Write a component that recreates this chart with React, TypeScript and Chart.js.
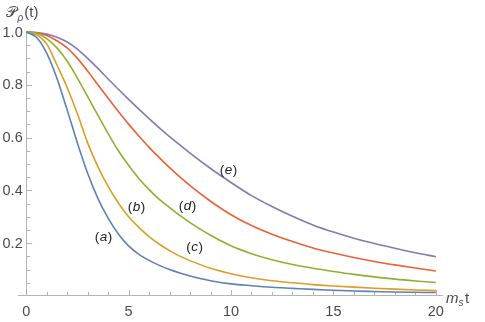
import React, { useEffect, useRef } from "react";
import { Chart, registerables } from "chart.js";

Chart.register(...registerables);

// ---- data ----
const tValues = [0, 0.5, 1, 1.5, 2, 2.5, 3, 3.5, 4, 4.5, 5, 5.5, 6, 6.5, 7, 7.5, 8, 9, 10, 11, 12, 13, 14, 15, 16, 17, 18, 19, 20];

const seriesA = [1.0, 0.98, 0.92, 0.825, 0.705, 0.58, 0.465, 0.37, 0.295, 0.235, 0.19, 0.158, 0.135, 0.116, 0.1, 0.087, 0.076, 0.058, 0.046, 0.039, 0.033, 0.029, 0.025, 0.022, 0.019, 0.017, 0.015, 0.014, 0.013];
const seriesB = [1.0, 0.99, 0.955, 0.875, 0.79, 0.69, 0.58, 0.49, 0.415, 0.352, 0.3, 0.26, 0.225, 0.196, 0.172, 0.151, 0.134, 0.105, 0.084, 0.069, 0.058, 0.05, 0.043, 0.038, 0.0335, 0.0295, 0.026, 0.023, 0.0205];
const seriesC = [1.0, 0.995, 0.975, 0.94, 0.89, 0.825, 0.755, 0.685, 0.615, 0.55, 0.495, 0.445, 0.403, 0.366, 0.335, 0.305, 0.278, 0.23, 0.19, 0.16, 0.137, 0.119, 0.105, 0.093, 0.082, 0.0725, 0.064, 0.057, 0.051];
const seriesD = [1.0, 0.997, 0.987, 0.967, 0.94, 0.9, 0.852, 0.8, 0.749, 0.699, 0.651, 0.606, 0.563, 0.524, 0.486, 0.451, 0.418, 0.359, 0.308, 0.267, 0.234, 0.206, 0.182, 0.163, 0.146, 0.131, 0.118, 0.106, 0.095];
const seriesE = [1.0, 0.998, 0.992, 0.98, 0.962, 0.935, 0.9, 0.862, 0.822, 0.783, 0.745, 0.708, 0.672, 0.637, 0.604, 0.572, 0.541, 0.483, 0.43, 0.38, 0.339, 0.302, 0.269, 0.242, 0.219, 0.199, 0.181, 0.164, 0.149];

const seriesColors = ["#5E81B5", "#E19C24", "#8FB032", "#EB6235", "#8778B3"];

const xMajorTicks = [0, 5, 10, 15, 20];
const xMajorLabels = ["0", "5", "10", "15", "20"];
const xMinorTicks = [1, 2, 3, 4, 6, 7, 8, 9, 11, 12, 13, 14, 16, 17, 18, 19];
const yMajorTicks = [0.2, 0.4, 0.6, 0.8, 1.0];
const yMajorLabels = ["0.2", "0.4", "0.6", "0.8", "1.0"];
const yMinorTicks = [0.05, 0.1, 0.15, 0.25, 0.3, 0.35, 0.45, 0.5, 0.55, 0.65, 0.7, 0.75, 0.85, 0.9, 0.95];

const curveLabelLetters = ["a", "b", "c", "d", "e"];
const curveLabelX = [3.77, 5.39, 8.22, 7.88, 9.88];
const curveLabelY = [0.222, 0.335, 0.184, 0.341, 0.477];

const AXIS_COLOR = "#b4b4b4";
const TEXT_COLOR = "#4a4a4a";
const FONT = '"Liberation Sans", Arial, sans-serif';

const axesPlugin = {
  id: "mmaAxes",
  beforeDatasetsDraw(chart: any) {
    const ctx = chart.ctx;
    const xs = chart.scales.x;
    const ys = chart.scales.y;
    const area = chart.chartArea;
    const x0 = xs.getPixelForValue(0);
    const y0 = ys.getPixelForValue(0);
    ctx.save();
    ctx.strokeStyle = AXIS_COLOR;
    ctx.lineWidth = 1;
    // axis lines
    ctx.beginPath();
    ctx.moveTo(area.left, y0 - 0.5);
    ctx.lineTo(area.right, y0 - 0.5);
    ctx.moveTo(Math.round(x0) + 0.5, y0);
    ctx.lineTo(Math.round(x0) + 0.5, ys.getPixelForValue(1.0) - 1);
    ctx.stroke();
    // ticks (pointing inward)
    ctx.beginPath();
    xMajorTicks.forEach((v) => {
      const px = Math.round(xs.getPixelForValue(v)) + 0.5;
      ctx.moveTo(px, y0);
      ctx.lineTo(px, y0 - 6);
    });
    xMinorTicks.forEach((v) => {
      const px = Math.round(xs.getPixelForValue(v)) + 0.5;
      ctx.moveTo(px, y0);
      ctx.lineTo(px, y0 - 4);
    });
    yMajorTicks.forEach((v) => {
      const py = Math.round(ys.getPixelForValue(v)) + 0.5;
      ctx.moveTo(x0, py);
      ctx.lineTo(x0 + 6, py);
    });
    yMinorTicks.forEach((v) => {
      const py = Math.round(ys.getPixelForValue(v)) + 0.5;
      ctx.moveTo(x0, py);
      ctx.lineTo(x0 + 4, py);
    });
    ctx.stroke();

    // tick labels
    ctx.fillStyle = TEXT_COLOR;
    ctx.font = `14.5px ${FONT}`;
    ctx.textAlign = "center";
    ctx.textBaseline = "alphabetic";
    xMajorTicks.forEach((v, i) => {
      ctx.fillText(xMajorLabels[i], xs.getPixelForValue(v), y0 + 19.5);
    });
    ctx.textAlign = "right";
    ctx.textBaseline = "middle";
    yMajorTicks.forEach((v, i) => {
      ctx.fillText(yMajorLabels[i], x0 - 3.5, ys.getPixelForValue(v) + 0.5);
    });

    // axis titles
    ctx.textAlign = "left";
    ctx.textBaseline = "alphabetic";
    ctx.font = `15px ${FONT}`;
    ctx.fillText("\u{1D4AB}", 6, 17);
    const w = ctx.measureText("\u{1D4AB}").width;
    ctx.font = `italic 10px ${FONT}`;
    ctx.fillText("ρ", 6 + w + 0.5, 21);
    const w2 = ctx.measureText("ρ").width;
    ctx.font = `15px ${FONT}`;
    ctx.fillText("(t)", 6 + w + w2 + 1.5, 17);

    const xlx = area.right + 3;
    const xly = y0 + 6.5;
    ctx.font = `italic 15px ${FONT}`;
    ctx.fillText("m", xlx, xly);
    const wm = ctx.measureText("m").width;
    ctx.font = `italic 10px ${FONT}`;
    ctx.fillText("s", xlx + wm, xly + 3);
    const ws = ctx.measureText("s").width;
    ctx.font = `15px ${FONT}`;
    ctx.fillText("t", xlx + wm + ws + 1.5, xly);
    ctx.restore();
  },
  afterDatasetsDraw(chart: any) {
    const ctx = chart.ctx;
    const xs = chart.scales.x;
    const ys = chart.scales.y;
    ctx.save();
    ctx.fillStyle = "#222";
    ctx.textBaseline = "middle";
    ctx.textAlign = "left";
    curveLabelLetters.forEach((letter, i) => {
      const cx = xs.getPixelForValue(curveLabelX[i]);
      const cy = ys.getPixelForValue(curveLabelY[i]);
      ctx.font = `13.5px ${FONT}`;
      const wp = ctx.measureText("(").width;
      const wq = ctx.measureText(")").width;
      ctx.font = `italic 13.5px ${FONT}`;
      const wl = ctx.measureText(letter).width;
      const total = wp + wl + wq + 1;
      let x = cx - total / 2;
      ctx.font = `13.5px ${FONT}`;
      ctx.fillText("(", x, cy);
      x += wp + 0.5;
      ctx.font = `italic 13.5px ${FONT}`;
      ctx.fillText(letter, x, cy);
      x += wl + 0.5;
      ctx.font = `13.5px ${FONT}`;
      ctx.fillText(")", x, cy);
    });
    ctx.restore();
  },
};

export default function App() {
  const canvasRef = useRef<HTMLCanvasElement | null>(null);

  useEffect(() => {
    if (!canvasRef.current) return;
    const all = [seriesA, seriesB, seriesC, seriesD, seriesE];
    const chart = new Chart(canvasRef.current, {
      type: "line",
      data: {
        datasets: all.map((s, i) => ({
          label: curveLabelLetters[i],
          data: tValues.map((t, j) => ({ x: t, y: s[j] })),
          borderColor: seriesColors[i],
          backgroundColor: seriesColors[i],
          borderWidth: 1.6,
          pointRadius: 0,
          fill: false,
          cubicInterpolationMode: "monotone" as const,
          clip: false as any,
        })),
      },
      options: {
        responsive: false,
        animation: false,
        devicePixelRatio: 1,
        layout: { padding: { left: 18, right: 42, top: 32, bottom: 26 } },
        scales: {
          x: { type: "linear", min: -0.4, max: 20.35, display: false },
          y: { type: "linear", min: 0, max: 1.0, display: false },
        },
        plugins: {
          legend: { display: false },
          tooltip: { enabled: false },
        },
      },
      plugins: [axesPlugin],
    });
    return () => chart.destroy();
  }, []);

  return (
    <div style={{ position: "absolute", left: 0, top: 0, width: 485, height: 322, background: "#fff" }}>
      <canvas ref={canvasRef} width={485} height={322} style={{ display: "block" }} />
    </div>
  );
}
